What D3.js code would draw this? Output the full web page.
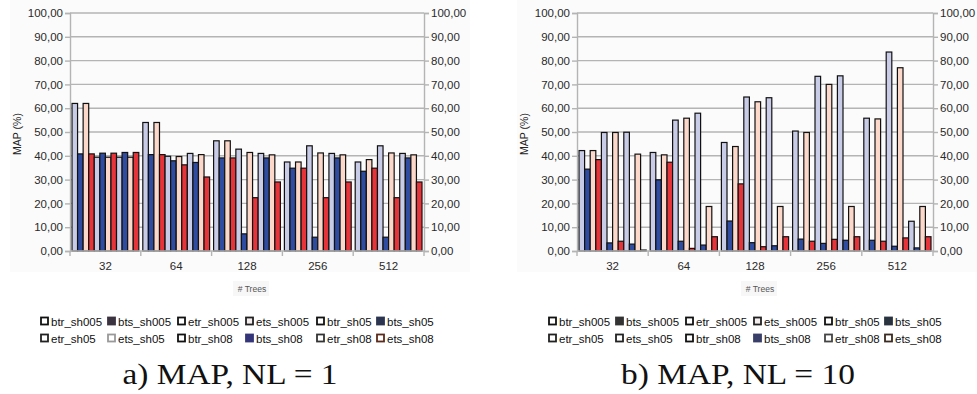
<!DOCTYPE html>
<html>
<head>
<meta charset="utf-8">
<script src="https://cdn.jsdelivr.net/npm/d3@7"></script>
<style>
  html, body { margin: 0; padding: 0; background: #fff; }
  svg { display: block; }
  text { font-family: "Liberation Sans", Arial, sans-serif; }
</style>
</head>
<body>
<svg id="chart" width="977" height="394"></svg>
<script>
// ---------- DATA ----------
const categories = ["32", "64", "128", "256", "512"];
const seriesNames = [
  "btr_sh005", "bts_sh005", "etr_sh005", "ets_sh005",
  "btr_sh05", "bts_sh05", "etr_sh05", "ets_sh05",
  "btr_sh08", "bts_sh08", "etr_sh08", "ets_sh08"
];
const yTicks = [0, 10, 20, 30, 40, 50, 60, 70, 80, 90, 100];

// MAP (%) with NL = 1 ; one row per series, one column per category
const mapNL1 = [
  [62.0, 54.0, 46.3, 37.4, 37.4],
  [40.8, 40.5, 39.1, 34.8, 33.5],
  [62.0, 54.0, 46.3, 37.4, 38.4],
  [40.8, 40.5, 39.1, 34.8, 34.8],
  [39.4, 39.8, 42.8, 44.2, 44.2],
  [41.1, 37.9, 7.2, 5.8, 5.8],
  [39.4, 39.7, 41.4, 41.2, 41.2],
  [41.1, 36.2, 22.4, 22.4, 22.4],
  [39.4, 41.0, 41.0, 41.0, 41.0],
  [41.4, 37.2, 39.1, 39.1, 39.1],
  [39.4, 40.5, 40.4, 40.4, 40.4],
  [41.4, 31.1, 29.0, 29.0, 29.0]
];

// MAP (%) with NL = 10
const mapNL10 = [
  [42.2, 41.4, 45.6, 50.4, 55.8],
  [34.4, 29.9, 12.6, 5.0, 4.5],
  [42.2, 40.4, 43.9, 49.8, 55.5],
  [38.4, 37.3, 28.2, 4.1, 4.1],
  [49.8, 55.0, 64.7, 73.4, 83.6],
  [3.4, 4.1, 3.5, 3.2, 2.0],
  [49.8, 55.8, 62.7, 70.0, 77.0],
  [4.1, 1.1, 1.8, 4.9, 5.5],
  [49.9, 57.9, 64.4, 73.6, 12.5],
  [2.9, 2.5, 2.2, 4.5, 1.3],
  [40.7, 18.7, 18.7, 18.7, 18.7],
  [0.4, 6.0, 6.0, 6.0, 6.0]
];

const captions = ["a) MAP, NL = 1", "b) MAP, NL = 10"];

// ---------- STYLES ----------
const barColors = ["#c9cce6", "#2f4ca0", "#fbd8c9", "#e5343a"]; // btr, bts, etr, ets
const legendStylesA = [
  ["#ffffff", "#111"], ["#3b3340", "#3b3340"], ["#ffffff", "#111"], ["#f4eeee", "#222"],
  ["#ffffff", "#111"], ["#2b3550", "#2b3550"], ["#ffffff", "#222"], ["#ffffff", "#999"],
  ["#ffffff", "#111"], ["#35357a", "#35357a"], ["#ffffff", "#333"], ["#ffffff", "#5a2a1a"]
];
const legendStylesB = [
  ["#ffffff", "#111"], ["#333333", "#333333"], ["#ffffff", "#111"], ["#f4eeee", "#222"],
  ["#ffffff", "#111"], ["#2a3340", "#2a3340"], ["#ffffff", "#222"], ["#ffffff", "#222"],
  ["#ffffff", "#111"], ["#3a3f6a", "#3a3f6a"], ["#ffffff", "#444"], ["#ffffff", "#3a2a20"]
];

const svg = d3.select("#chart");
const fmt = v => d3.format(".2f")(v).replace(".", ",");

function panel(cfg) {
  const { left, right, values, caption, legendX, legendStyles, captionWidth, bgX, bgW } = cfg;
  const top = 13, bottom = 251;
  const g = svg.append("g");

  g.append("rect").attr("x", bgX).attr("y", 0).attr("width", bgW).attr("height", 272)
    .attr("fill", "#fbfbfb");

  const y = d3.scaleLinear().domain([0, 100]).range([bottom, top]);
  const x0 = d3.scaleBand().domain(categories).range([left, right]);
  const x1 = d3.scaleBand().domain(seriesNames).range([2, x0.bandwidth() - 2]);

  // gridlines
  g.append("g").selectAll("line").data(yTicks.filter(d => d > 0)).join("line")
    .attr("x1", left).attr("x2", right)
    .attr("y1", d => y(d)).attr("y2", d => y(d))
    .attr("stroke", "#b4b4b4").attr("stroke-width", 1.4);

  // bars
  const flat = [];
  seriesNames.forEach((s, si) => categories.forEach((c, ci) => {
    flat.push({ s, si, c, v: values[si][ci] });
  }));
  g.append("g").selectAll("rect").data(flat).join("rect")
    .attr("x", d => x0(d.c) + x1(d.s))
    .attr("width", x1.bandwidth())
    .attr("y", d => y(d.v))
    .attr("height", d => y(0) - y(d.v))
    .attr("fill", d => barColors[d.si % 4])
    .attr("stroke", "#111").attr("stroke-width", 1.2);

  // axes
  const axL = d3.axisLeft(y).tickValues(yTicks).tickFormat(fmt).tickSize(5).tickPadding(2);
  const axR = d3.axisRight(y).tickValues(yTicks).tickFormat(fmt).tickSize(5).tickPadding(2);
  const axB = d3.axisBottom(x0).tickSize(0).tickPadding(11);

  const styleAxis = sel => {
    sel.select(".domain").attr("stroke", "#b4b4b4").attr("stroke-width", 1.4);
    sel.selectAll(".tick line").attr("stroke", "#b4b4b4").attr("stroke-width", 1.4);
    sel.selectAll("text").attr("fill", "#2a2a2a").style("font-size", "11.5px")
      .style("font-family", "'Liberation Sans', Arial, sans-serif");
  };
  g.append("g").attr("transform", `translate(${left},0)`).call(axL).call(styleAxis);
  g.append("g").attr("transform", `translate(${right},0)`).call(axR).call(styleAxis);
  const xb = g.append("g").attr("transform", `translate(0,${bottom})`).call(axB).call(styleAxis);
  xb.select(".domain").remove();
  // baseline
  g.append("line").attr("x1", left).attr("x2", right).attr("y1", bottom).attr("y2", bottom)
    .attr("stroke", "#b4b4b4").attr("stroke-width", 1.4);
  // category separator ticks
  g.append("g").selectAll("line").data(categories.concat(["__end"])).join("line")
    .attr("x1", (d, i) => i < categories.length ? x0(d) : right)
    .attr("x2", (d, i) => i < categories.length ? x0(d) : right)
    .attr("y1", bottom).attr("y2", bottom + 5)
    .attr("stroke", "#b4b4b4").attr("stroke-width", 1.4);

  // axis titles
  g.append("text").attr("transform", `translate(${left - 53},${(top + bottom) / 2 + 2}) rotate(-90)`)
    .attr("text-anchor", "middle").attr("dy", "0.35em")
    .attr("fill", "#222").style("font-size", "10.5px").text("MAP (%)");
  g.append("rect").attr("x", (left + right) / 2 - 14).attr("y", 281).attr("width", 36).attr("height", 15)
    .attr("fill", "#f7f7f7");
  g.append("text").attr("x", (left + right) / 2 + 5).attr("y", 292)
    .attr("text-anchor", "middle").attr("fill", "#555").style("font-size", "8.5px").text("# Trees");

  // legend
  const leg = g.append("g").attr("transform", `translate(${legendX},0)`);
  const colX = [0, 67, 137, 205, 276, 336];
  seriesNames.forEach((s, i) => {
    const col = i % 6, row = Math.floor(i / 6);
    const yy = 322 + row * 17;
    leg.append("rect").attr("x", colX[col] + 1).attr("y", yy - 4.5).attr("width", 7).attr("height", 7)
      .attr("fill", legendStyles[i][0]).attr("stroke", legendStyles[i][1]).attr("stroke-width", 1.8);
    leg.append("text").attr("x", colX[col] + 11).attr("y", yy).attr("dy", "0.35em")
      .attr("fill", "#111").style("font-size", "11.5px").text(s);
  });

  // caption
  g.append("text").attr("x", (left + right) / 2 - 17).attr("y", 384)
    .attr("text-anchor", "middle")
    .attr("textLength", captionWidth).attr("lengthAdjust", "spacingAndGlyphs")
    .style("font-family", "'Liberation Serif', 'DejaVu Serif', serif")
    .style("font-size", "29px").attr("fill", "#111").text(caption);
}

panel({ left: 70, right: 424, values: mapNL1, caption: captions[0], legendX: 40,
        legendStyles: legendStylesA, captionWidth: 215, bgX: 10, bgW: 460 });
panel({ left: 577, right: 933, values: mapNL10, caption: captions[1], legendX: 548,
        legendStyles: legendStylesB, captionWidth: 234, bgX: 517, bgW: 460 });
</script>
</body>
</html>
